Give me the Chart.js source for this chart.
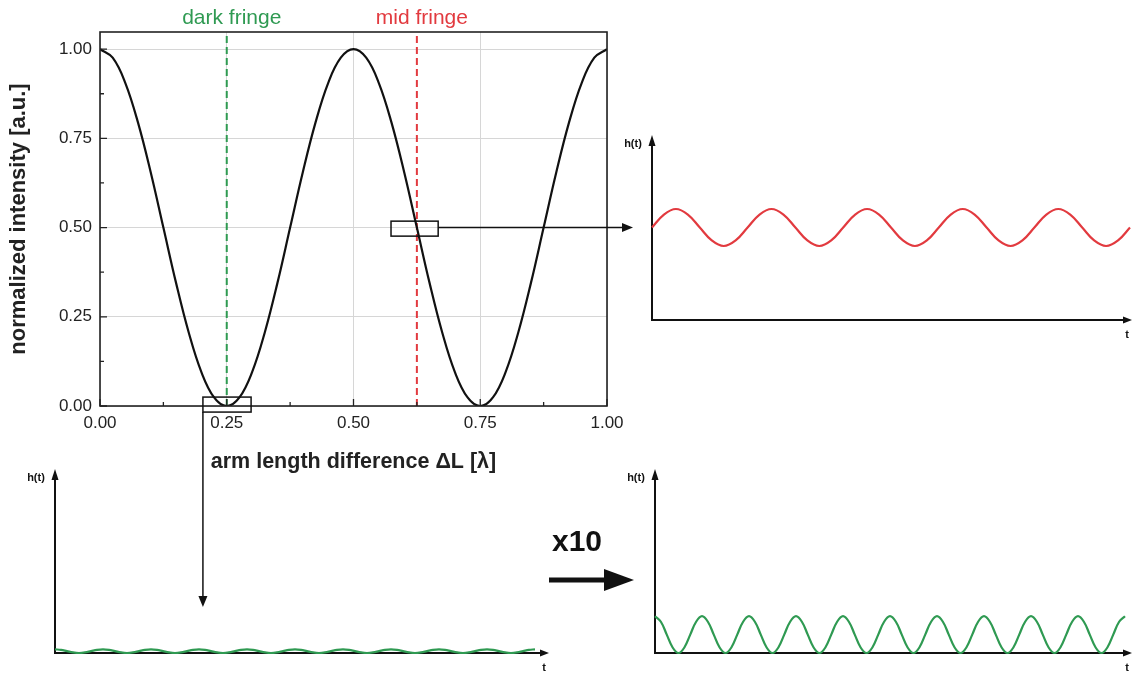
<!DOCTYPE html>
<html>
<head>
<meta charset="utf-8">
<script src="https://cdn.jsdelivr.net/npm/chart.js@4.4.0/dist/chart.umd.min.js"></script>
<style>
  html, body { margin: 0; padding: 0; background: #fff; }
  #wrap { position: relative; width: 1132px; height: 675px; }
  #wrap canvas { position: absolute; left: 0; top: 0; }
</style>
</head>
<body>
<div id="wrap">
  <canvas id="mainChart" width="1132" height="675"></canvas>
  <canvas id="redChart" width="1132" height="675"></canvas>
  <canvas id="darkChart" width="1132" height="675"></canvas>
  <canvas id="zoomChart" width="1132" height="675"></canvas>
</div>
<script>
// main interferometer curve
var armLength = [0, 0.025, 0.05, 0.075, 0.1, 0.125, 0.15, 0.175, 0.2, 0.225, 0.25,
  0.275, 0.3, 0.325, 0.35, 0.375, 0.4, 0.425, 0.45, 0.475, 0.5,
  0.525, 0.55, 0.575, 0.6, 0.625, 0.65, 0.675, 0.7, 0.725, 0.75,
  0.775, 0.8, 0.825, 0.85, 0.875, 0.9, 0.925, 0.95, 0.975, 1];
var intensity = [1.000, 0.976, 0.905, 0.794, 0.655, 0.500, 0.345, 0.206, 0.095, 0.024, 0.000,
  0.024, 0.095, 0.206, 0.345, 0.500, 0.655, 0.794, 0.905, 0.976, 1.000,
  0.976, 0.905, 0.794, 0.655, 0.500, 0.345, 0.206, 0.095, 0.024, 0.000,
  0.024, 0.095, 0.206, 0.345, 0.500, 0.655, 0.794, 0.905, 0.976, 1.000];
var majorTicks = [0, 0.25, 0.5, 0.75, 1];
var minorTicks = [0.125, 0.375, 0.625, 0.875];
var fringeX = [0.25, 0.625];
var fringeNames = ['dark fringe', 'mid fringe'];

// h(t) at mid fringe
var tRed = [0, 0.125, 0.25, 0.375, 0.5, 0.625, 0.75, 0.875, 1,
  1.125, 1.25, 1.375, 1.5, 1.625, 1.75, 1.875, 2,
  2.125, 2.25, 2.375, 2.5, 2.625, 2.75, 2.875, 3,
  3.125, 3.25, 3.375, 3.5, 3.625, 3.75, 3.875, 4,
  4.125, 4.25, 4.375, 4.5, 4.625, 4.75, 4.875, 5];
var hMid = [0.50, 0.57, 0.60, 0.57, 0.50, 0.43, 0.40, 0.43,
  0.50, 0.57, 0.60, 0.57, 0.50, 0.43, 0.40, 0.43,
  0.50, 0.57, 0.60, 0.57, 0.50, 0.43, 0.40, 0.43,
  0.50, 0.57, 0.60, 0.57, 0.50, 0.43, 0.40, 0.43,
  0.50, 0.57, 0.60, 0.57, 0.50, 0.43, 0.40, 0.43, 0.50];

// h(t) at dark fringe, and the same x10
var tGreen = [0, 0.125, 0.25, 0.375, 0.5, 0.625, 0.75, 0.875, 1,
  1.125, 1.25, 1.375, 1.5, 1.625, 1.75, 1.875, 2,
  2.125, 2.25, 2.375, 2.5, 2.625, 2.75, 2.875, 3,
  3.125, 3.25, 3.375, 3.5, 3.625, 3.75, 3.875, 4,
  4.125, 4.25, 4.375, 4.5, 4.625, 4.75, 4.875, 5,
  5.125, 5.25, 5.375, 5.5, 5.625, 5.75, 5.875, 6,
  6.125, 6.25, 6.375, 6.5, 6.625, 6.75, 6.875, 7,
  7.125, 7.25, 7.375, 7.5, 7.625, 7.75, 7.875, 8,
  8.125, 8.25, 8.375, 8.5, 8.625, 8.75, 8.875, 9,
  9.125, 9.25, 9.375, 9.5, 9.625, 9.75, 9.875, 10];
var hDark = [0.020, 0.017, 0.010, 0.003, 0.000, 0.003, 0.010, 0.017,
  0.020, 0.017, 0.010, 0.003, 0.000, 0.003, 0.010, 0.017,
  0.020, 0.017, 0.010, 0.003, 0.000, 0.003, 0.010, 0.017,
  0.020, 0.017, 0.010, 0.003, 0.000, 0.003, 0.010, 0.017,
  0.020, 0.017, 0.010, 0.003, 0.000, 0.003, 0.010, 0.017,
  0.020, 0.017, 0.010, 0.003, 0.000, 0.003, 0.010, 0.017,
  0.020, 0.017, 0.010, 0.003, 0.000, 0.003, 0.010, 0.017,
  0.020, 0.017, 0.010, 0.003, 0.000, 0.003, 0.010, 0.017,
  0.020, 0.017, 0.010, 0.003, 0.000, 0.003, 0.010, 0.017,
  0.020, 0.017, 0.010, 0.003, 0.000, 0.003, 0.010, 0.017, 0.020];
var hDarkX10 = [0.20, 0.17, 0.10, 0.03, 0.00, 0.03, 0.10, 0.17,
  0.20, 0.17, 0.10, 0.03, 0.00, 0.03, 0.10, 0.17,
  0.20, 0.17, 0.10, 0.03, 0.00, 0.03, 0.10, 0.17,
  0.20, 0.17, 0.10, 0.03, 0.00, 0.03, 0.10, 0.17,
  0.20, 0.17, 0.10, 0.03, 0.00, 0.03, 0.10, 0.17,
  0.20, 0.17, 0.10, 0.03, 0.00, 0.03, 0.10, 0.17,
  0.20, 0.17, 0.10, 0.03, 0.00, 0.03, 0.10, 0.17,
  0.20, 0.17, 0.10, 0.03, 0.00, 0.03, 0.10, 0.17,
  0.20, 0.17, 0.10, 0.03, 0.00, 0.03, 0.10, 0.17,
  0.20, 0.17, 0.10, 0.03, 0.00, 0.03, 0.10, 0.17, 0.20];

var GREEN = '#2f9a52';
var RED = '#e23a3f';
var FONT = "'Liberation Sans', Arial, sans-serif";

Chart.defaults.font.family = FONT;
Chart.defaults.color = '#222';
Chart.defaults.animation = false;
Chart.defaults.events = [];
Chart.defaults.plugins.legend.display = false;
Chart.defaults.plugins.tooltip.enabled = false;

function arrow(ctx, x1, y1, x2, y2, len, half, lw) {
    var ang = Math.atan2(y2 - y1, x2 - x1);
    var bx = x2 - len * Math.cos(ang), by = y2 - len * Math.sin(ang);
    ctx.lineWidth = lw;
    ctx.beginPath();
    ctx.moveTo(x1, y1);
    ctx.lineTo(bx, by);
    ctx.stroke();
    ctx.beginPath();
    ctx.moveTo(x2, y2);
    ctx.lineTo(bx + half * Math.sin(ang), by - half * Math.cos(ang));
    ctx.lineTo(bx - half * Math.sin(ang), by + half * Math.cos(ang));
    ctx.closePath();
    ctx.fill();
}

var mainDecor = {
    id: 'mainDecor',
    afterDraw: function(chart) {
        var ctx = chart.ctx, a = chart.chartArea;
        var x = chart.scales.x, y = chart.scales.y;
        ctx.save();
        ctx.strokeStyle = '#222';
        ctx.fillStyle = '#222';
        // inward ticks on bottom and left
        ctx.lineWidth = 1.3;
        ctx.beginPath();
        majorTicks.concat(minorTicks).forEach(function(v) {
            var len = majorTicks.indexOf(v) >= 0 ? 7 : 4;
            var px = x.getPixelForValue(v), py = y.getPixelForValue(v);
            ctx.moveTo(px, a.bottom); ctx.lineTo(px, a.bottom - len);
            ctx.moveTo(a.left, py); ctx.lineTo(a.left + len, py);
        });
        ctx.stroke();
        // frame
        ctx.lineWidth = 1.6;
        ctx.strokeRect(a.left, a.top, a.right - a.left, a.bottom - a.top);

        // fringe labels
        ctx.font = '21px ' + FONT;
        ctx.textAlign = 'center';
        ctx.textBaseline = 'alphabetic';
        ctx.fillStyle = GREEN;
        ctx.fillText(fringeNames[0], x.getPixelForValue(fringeX[0]) + 5, 24);
        ctx.fillStyle = RED;
        ctx.fillText(fringeNames[1], x.getPixelForValue(fringeX[1]) + 5, 24);

        // zoom boxes
        ctx.strokeStyle = '#111';
        ctx.fillStyle = '#111';
        ctx.lineWidth = 1.5;
        var d0 = x.getPixelForValue(0.203), d1 = x.getPixelForValue(0.298);
        var dt = y.getPixelForValue(0.025), db = y.getPixelForValue(-0.017);
        ctx.strokeRect(d0, dt, d1 - d0, db - dt);
        var m0 = x.getPixelForValue(0.574), m1 = x.getPixelForValue(0.667);
        var mt = y.getPixelForValue(0.518), mb = y.getPixelForValue(0.476);
        ctx.strokeRect(m0, mt, m1 - m0, mb - mt);
        // arrows to the small plots
        var my = y.getPixelForValue(0.5);
        arrow(ctx, m1, my, 633, my, 11, 4.5, 1.5);
        arrow(ctx, d0, db, d0, 607, 11, 4.5, 1.5);

        // x10 label and thick arrow
        ctx.font = 'bold 30px ' + FONT;
        ctx.fillText('x10', 577, 551);
        arrow(ctx, 549, 580, 634, 580, 30, 11, 5);
        ctx.restore();
    }
};

new Chart(document.getElementById('mainChart'), {
    type: 'line',
    data: {
        labels: armLength,
        datasets: [{
            data: intensity,
            borderColor: '#111',
            borderWidth: 2.2,
            pointRadius: 0,
            tension: 0.4
        }, {
            data: [{x: fringeX[0], y: 0}, {x: fringeX[0], y: 1.05}],
            borderColor: GREEN,
            borderWidth: 2,
            borderDash: [7, 4],
            pointRadius: 0
        }, {
            data: [{x: fringeX[1], y: 0}, {x: fringeX[1], y: 1.05}],
            borderColor: RED,
            borderWidth: 2,
            borderDash: [7, 4],
            pointRadius: 0
        }]
    },
    options: {
        responsive: false,
        layout: { padding: { left: 6, top: 32, right: 525, bottom: 200 } },
        scales: {
            x: {
                type: 'linear',
                min: 0,
                max: 1,
                afterFit: function(s) { s.height = 69; },
                grid: { color: '#d6d6d6', drawTicks: false },
                border: { display: false },
                ticks: {
                    stepSize: 0.25,
                    padding: 7,
                    font: { size: 17 },
                    callback: function(v) { return v.toFixed(2); }
                },
                title: {
                    display: true,
                    text: 'arm length difference \u0394L [\u03bb]',
                    font: { size: 21.5, weight: 'bold' },
                    padding: 0
                }
            },
            y: {
                min: 0,
                max: 1.048,
                afterFit: function(s) { s.width = 94; },
                grid: { color: '#d6d6d6', drawTicks: false },
                border: { display: false },
                ticks: {
                    stepSize: 0.25,
                    includeBounds: false,
                    padding: 8,
                    font: { size: 17 },
                    callback: function(v) { return v.toFixed(2); }
                },
                title: {
                    display: true,
                    text: 'normalized intensity [a.u.]',
                    font: { size: 22, weight: 'bold' },
                    padding: 0
                }
            }
        }
    },
    plugins: [mainDecor]
});

// small h(t) sketches
function smallChart(id, t, h, color, area, tMax, xEnd) {
    var axes = {
        id: 'axes',
        beforeDatasetsDraw: function(chart) {
            var ctx = chart.ctx, a = chart.chartArea;
            ctx.save();
            ctx.strokeStyle = '#111';
            ctx.fillStyle = '#111';
            arrow(ctx, a.left, a.bottom + 1, a.left, a.top, 11, 3.5, 2);
            arrow(ctx, a.left - 1, a.bottom, xEnd, a.bottom, 9, 3.5, 2);
            ctx.font = 'bold 11px ' + FONT;
            ctx.textAlign = 'center';
            ctx.textBaseline = 'middle';
            ctx.fillText('h(t)', a.left - 19, a.top + 9);
            ctx.fillText('t', xEnd - 5, a.bottom + 15);
            ctx.restore();
        }
    };
    return new Chart(document.getElementById(id), {
        type: 'line',
        data: {
            labels: t,
            datasets: [{
                data: h,
                borderColor: color,
                borderWidth: 2.2,
                pointRadius: 0,
                clip: false,
                tension: 0.4
            }]
        },
        options: {
            responsive: false,
            layout: { padding: { left: area[0], top: area[1], right: 1132 - area[2], bottom: 675 - area[3] } },
            scales: {
                x: { type: 'linear', display: false, min: 0, max: tMax },
                y: { display: false, min: 0, max: 1 }
            }
        },
        plugins: [axes]
    });
}

smallChart('redChart', tRed, hMid, RED, [652, 135, 1130, 320], 5, 1132);
smallChart('darkChart', tGreen, hDark, GREEN, [55, 469, 547, 653], 10.25, 549);
smallChart('zoomChart', tGreen, hDarkX10, GREEN, [655, 469, 1125, 653], 10, 1132);
</script>
</body>
</html>
